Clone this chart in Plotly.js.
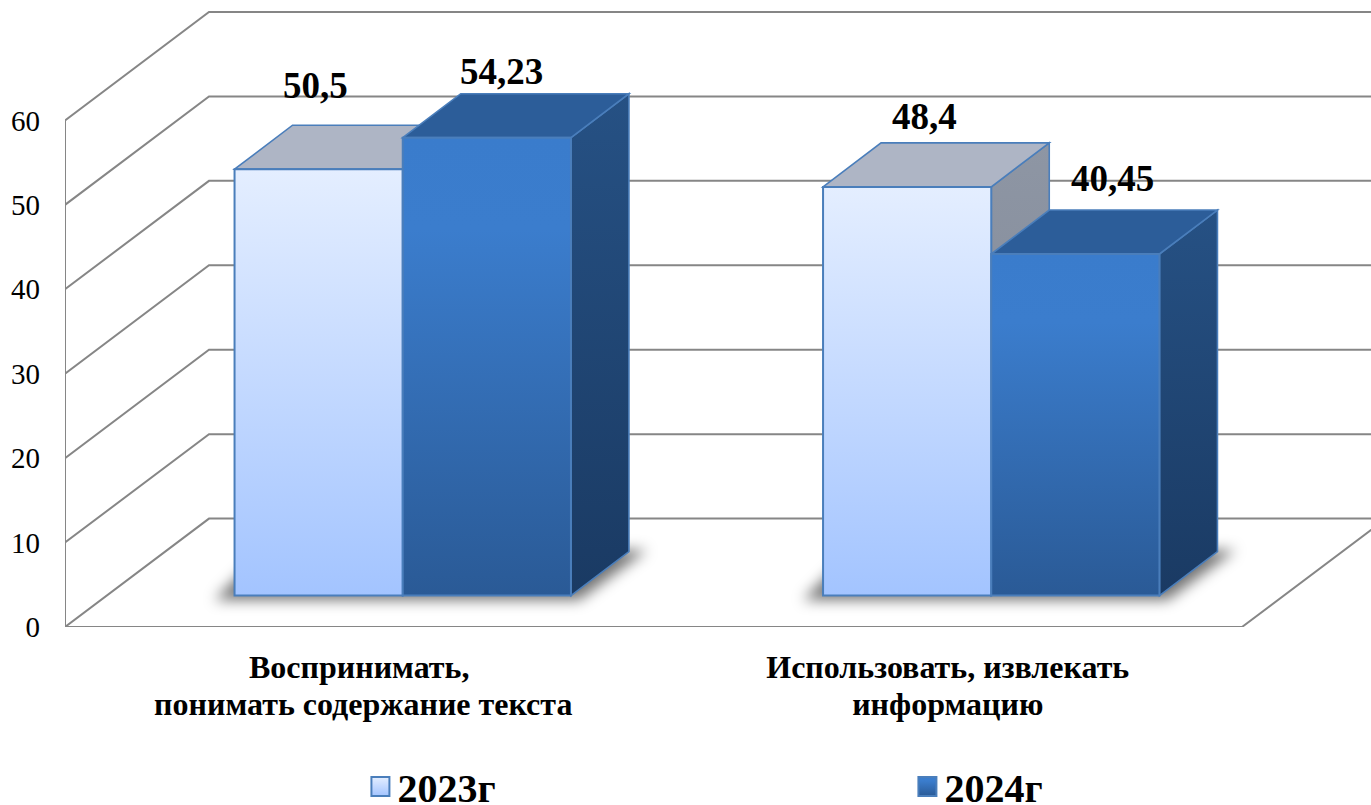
<!DOCTYPE html>
<html><head><meta charset="utf-8">
<script src="https://cdn.plot.ly/plotly-3.0.1.min.js"></script>
<style>html,body{margin:0;padding:0;background:#fff;overflow:hidden}</style>
</head><body><div id="chart" style="width:1371px;height:805px"></div>
<script>
const categories = ["Воспринимать,<br>понимать содержание текста", "Использовать, извлекать<br>информацию"];
const seriesNames = ["2023г", "2024г"];
const values2023 = [50.5, 48.4];
const values2024 = [54.23, 40.45];
const valueLabels2023 = ["50,5", "48,4"];
const valueLabels2024 = ["54,23", "40,45"];
const yTicks = [0, 10, 20, 30, 40, 50, 60];

// scales (pixels per data unit) and oblique depth of the 3D look
const W = 1371, H = 805, L = 65, T = 10, B = 177.5;
const xUnit = 588.5, yUnit = 8.45;
const wall = {dx: 144, dy: 108.5}, front = {dx: 43.5, dy: 31.5}, depth = {dx: 58, dy: 44};
const barW = 168.2 / xUnit;
const GRID = '#868686', EDGE = '#4a7ebb';
const base = front.dy / yUnit;
const P = (x, v, dx, dy) => (x + dx / xUnit) + ' ' + (v + dy / yUnit);
const poly = pts => 'M' + pts.join(' L') + ' Z';
const open = pts => 'M' + pts.join(' L');

const shapes = [], styled = [];
function add(path, s, grad, blur) {
  shapes.push(Object.assign({type: 'path', xref: 'x', yref: 'y', layer: 'below', path: path}, s));
  if (grad || blur) styled.push({i: shapes.length - 1, grad, blur});
}
const gridLine = {line: {color: GRID, width: 2}};
yTicks.forEach(v => add(open([P(0, v, 0, 0), P(0, v, wall.dx, wall.dy), P(2.3, v, wall.dx, wall.dy)]), gridLine));
add(open([P(0, 0, 0, 0), P(0, yTicks[yTicks.length - 1], 0, 0)]), gridLine);
add(open([P(0, 0, 0, 0), P(2, 0, 0, 0), P(2, 0, wall.dx, wall.dy)]), gridLine);

function left(c, s) { return c + (s === 0 ? -barW : 0) + front.dx / xUnit; }
[0, 1].forEach(c => {
  const cx = c + 0.5;
  const a = left(cx, 0), b = left(cx, 1) + barW;
  // soft floor shadow of the bar pair
  add(poly([P(a, 0, -20, 27), P(a, 0, 30, 77), P(b, 0, 76, 77), P(b, 0, 8, 27)]),
      {fillcolor: 'rgba(0,0,0,0.55)', line: {width: 0}}, null, 7);
});
function box(cx, s, val, topColor, sideGrad) {
  const x0 = left(cx, s), x1 = x0 + barW, v = val + base, b = base;
  const edge = {color: EDGE, width: 1.6};
  add(poly([P(x1, v, 0, 0), P(x1, v, depth.dx, depth.dy), P(x1, b, depth.dx, depth.dy), P(x1, b, 0, 0)]),
      {fillcolor: '#888', line: edge}, sideGrad);
  add(poly([P(x0, v, 0, 0), P(x0, v, depth.dx, depth.dy), P(x1, v, depth.dx, depth.dy), P(x1, v, 0, 0)]),
      {fillcolor: topColor, line: edge});
}
[0, 1].forEach(c => {
  box(c + 0.5, 0, values2023[c], '#aeb5c5', 'side23');
  box(c + 0.5, 1, values2024[c], '#2c5d99', 'side24');
});

const centers = [0.5, 1.5];
const barTrace = (s, vals, name) => ({
  type: 'bar', name: name, hoverinfo: 'skip',
  x: centers.map(c => left(c, s) + barW / 2), y: vals,
  base: vals.map(() => base), width: barW,
  marker: {color: s ? '#3a7ccc' : '#c5d9ff', line: {color: EDGE, width: 2}}
});
const labelFont = {family: 'Liberation Serif', size: 37, color: '#000', weight: 700};
const labelShift = [[-3, 84, 15, 66], [17, 70, 37, 76]];
const annotations = [];
[0, 1].forEach(c => {
  [[values2023, valueLabels2023, 0], [values2024, valueLabels2024, 1]].forEach(([vals, txt, s]) => {
    annotations.push({
      xref: 'x', yref: 'y', x: left(centers[c], s) + barW / 2, y: vals[c] + base,
      text: txt[c], showarrow: false, xanchor: 'center', yanchor: 'middle',
      xshift: labelShift[c][s * 2], yshift: labelShift[c][s * 2 + 1], font: labelFont
    });
  });
});

const layout = {
  width: W, height: H, margin: {l: L, r: 0, t: T, b: B},
  paper_bgcolor: '#fff', plot_bgcolor: 'rgba(0,0,0,0)', barmode: 'overlay',
  font: {family: 'Liberation Serif', color: '#000'},
  xaxis: {range: [0, (W - L) / xUnit], tickvals: centers, ticktext: categories, showgrid: false, zeroline: false,
          showline: false, ticks: '', fixedrange: true, automargin: false, tickangle: 0, ticklabelstandoff: 18,
          tickfont: {family: 'Liberation Serif', size: 32, weight: 700, color: '#000'}},
  yaxis: {range: [0, (H - B - T) / yUnit], tickvals: yTicks, ticktext: yTicks.map(String), showgrid: false, zeroline: false,
          showline: false, ticks: '', ticklabelstandoff: 24, fixedrange: true, automargin: false,
          tickfont: {family: 'Liberation Serif', size: 29, color: '#000'}},
  shapes: shapes, annotations: annotations, showlegend: true,
  legend: {orientation: 'h', xref: 'container', yref: 'container', x: 0.2607, xanchor: 'left', y: 0.023, yanchor: 'middle',
           entrywidth: 502, entrywidthmode: 'pixels', itemclick: false, itemdoubleclick: false,
           bgcolor: 'rgba(0,0,0,0)', font: {family: 'Liberation Serif', size: 40, weight: 700, color: '#000'}}
};
const gradients = {
  front23: [['0', '#e4eeff'], ['1', '#a3c4ff']],
  front24: [['0', '#3a7ccc'], ['0.2', '#3b7dcd'], ['1', '#2a5a96']],
  side23: [['0', '#8e96a4'], ['1', '#7c8494']],
  side24: [['0', '#265184'], ['1', '#1a3a63']]
};
Plotly.newPlot('chart', [barTrace(0, values2023, seriesNames[0]), barTrace(1, values2024, seriesNames[1])], layout, {displayModeBar: false, staticPlot: true}).then(gd => {
  const svg = gd.querySelector('.main-svg'), NS = 'http://www.w3.org/2000/svg';
  const defs = svg.querySelector('defs');
  Object.keys(gradients).forEach(id => {
    const g = document.createElementNS(NS, 'linearGradient');
    g.setAttribute('id', id); g.setAttribute('x1', 0); g.setAttribute('x2', 0); g.setAttribute('y1', 0); g.setAttribute('y2', 1);
    gradients[id].forEach(([o, col]) => {
      const st = document.createElementNS(NS, 'stop');
      st.setAttribute('offset', o); st.setAttribute('stop-color', col); g.appendChild(st);
    });
    defs.appendChild(g);
  });
  styled.forEach(s => {
    const p = gd.querySelector('.shapelayer path[data-index="' + s.i + '"]');
    if (!p) return;
    if (s.grad) p.style.setProperty('fill', 'url(#' + s.grad + ')');
    if (s.blur) p.style.setProperty('filter', 'blur(' + s.blur + 'px)');
  });
  gd.querySelectorAll('.barlayer .trace').forEach((t, i) => {
    t.querySelectorAll('.point path').forEach(p => p.style.setProperty('fill', 'url(#front' + (i ? 24 : 23) + ')'));
  });
  gd.querySelectorAll('.legend .traces').forEach((t, i) => {
    t.querySelectorAll('.legendpoints path').forEach(p => {
      p.style.setProperty('fill', 'url(#front' + (i ? 24 : 23) + ')');
      p.setAttribute('d', 'M-6,-9.5H12V9.5H-6Z');
    });
  });
  // tighten the two-line category labels to the reference line spacing
  gd.querySelectorAll('.xtick text tspan.line').forEach(t => {
    if (parseFloat(t.getAttribute('dy')) > 0) t.setAttribute('dy', '37px');
  });
  const secondLine = gd.querySelectorAll('.xtick')[0].querySelectorAll('tspan.line')[1];
  if (secondLine) secondLine.setAttribute('dx', '4');
});
</script></body></html>
